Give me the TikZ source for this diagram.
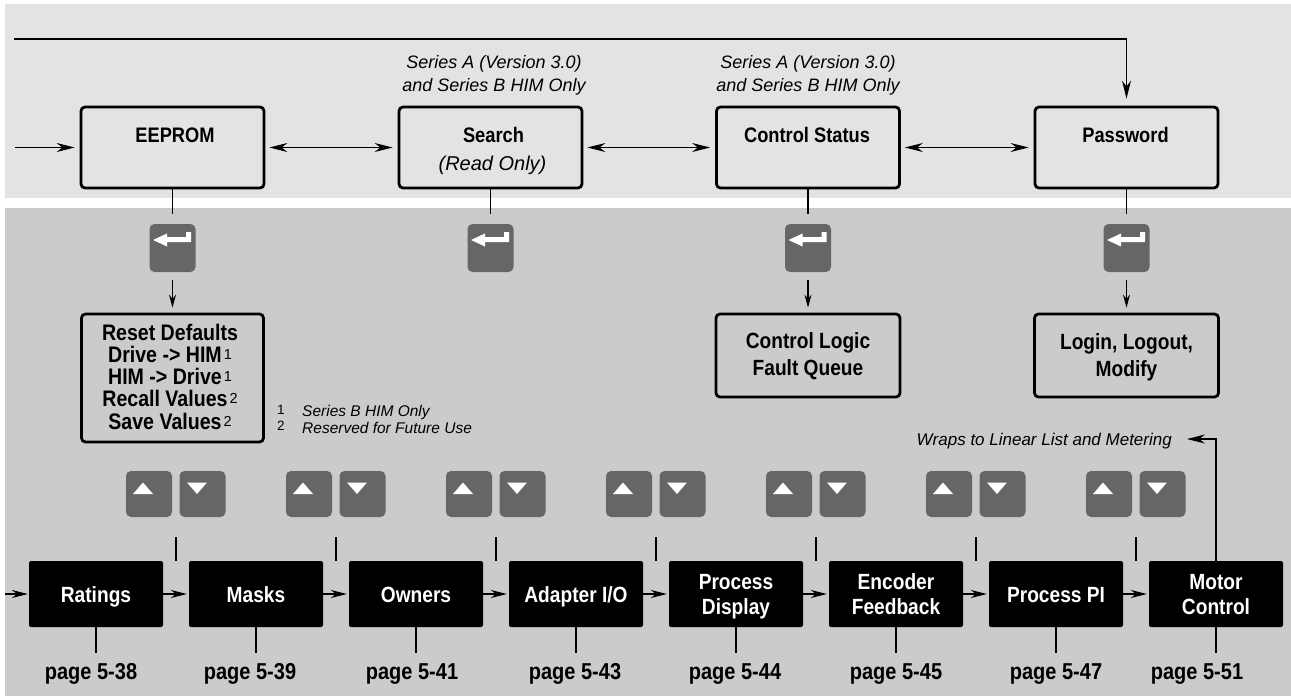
\documentclass[tikz,border=0pt]{standalone}
\usepackage{fontspec}
\setmainfont{Liberation Sans}[FakeStretch=0.87]
\newfontfamily\plainf{Liberation Sans}
\usetikzlibrary{arrows.meta,calc}
\definecolor{bandA}{RGB}{227,227,227}
\definecolor{bandB}{RGB}{203,203,203}
\definecolor{keyg}{RGB}{102,102,102}
\newcommand\lns[2]{\vtop{\baselineskip=#1\lineskiplimit=-1000pt\lineskip=0pt\halign{\hfil##\hfil\cr#2\crcr}}}
\newcommand\sups[1]{\kern2pt\raisebox{3pt}{\plainf\mdseries\fontsize{14.5}{14.5}\selectfont #1}}
\tikzset{
 tbox/.style={draw, line width=2.8pt, rounded corners=4pt, minimum width=183pt, minimum height=81pt, inner sep=0pt},
 bbox/.style={fill=black, rounded corners=2pt, minimum width=134pt, minimum height=66pt, inner sep=0pt},
 keybox/.style={fill=keyg, rounded corners=5pt, minimum width=46pt, minimum height=46pt, inner sep=0pt},
 ttl/.style={anchor=base, inner sep=0pt, font=\bfseries\fontsize{21}{25}\selectfont},
 note/.style={anchor=base, inner sep=0pt, font=\plainf\itshape\fontsize{18}{23}\selectfont},
 wtxt/.style={anchor=base, inner sep=0pt, text=white, font=\bfseries\fontsize{22}{25}\selectfont},
 btxt/.style={anchor=base, inner sep=0pt, font=\bfseries\fontsize{22}{25}\selectfont},
 pg/.style={anchor=base, inner sep=0pt, font=\bfseries\fontsize{23}{25}\selectfont},
 conn/.style={line width=1.2pt},
 tick/.style={line width=1.5pt},
 arr/.style={conn, -{Stealth[length=18pt,width=9pt]}},
 darr/.style={conn, {Stealth[length=18pt,width=9pt]}-{Stealth[length=18pt,width=9pt]}},
 sarr/.style={conn, -{Stealth[length=13pt,width=7pt]}},
 barr/.style={conn, -{Stealth[length=16pt,width=8pt]}},
}
\begin{document}
\begin{tikzpicture}[x=1pt,y=-1pt]
\useasboundingbox (0,0) rectangle (1291,696);
\fill[white] (0,0) rectangle (1291,696);
\fill[bandA] (5,4) rectangle (1291,198);
\fill[bandB] (5,208) rectangle (1291,696);

% ---------- top row ----------
\node[tbox] (ee) at (172.5,147.5) {};
\node[tbox] (se) at (490.5,147.5) {};
\node[tbox] (cs) at (808,147.5) {};
\node[tbox] (pw) at (1126.5,147.5) {};
\node[ttl] (eet) at (175,142.5) {EEPROM};
\node[ttl] (set) at (493.5,142.5) {Search};
\node[anchor=base, inner sep=0pt, font=\plainf\itshape\fontsize{20}{24}\selectfont] (ser) at (492.5,170) {(Read Only)};
\node[ttl] (cst) at (807,142.5) {Control Status};
\node[ttl] (pwt) at (1125.5,142.5) {Password};

\node[note] (n1) at (494,68.5) {\lns{22.5pt}{Series A (Version 3.0)\cr and Series B HIM Only}};
\node[note] (n2) at (808,68.5) {\lns{22.5pt}{Series A (Version 3.0)\cr and Series B HIM Only}};

\coordinate (tl) at (14,39);
\draw[arr, shorten >=7pt] (tl) -| (pw.north);
\coordinate (li) at (15,147.5);
\draw[arr, shorten >=5pt] (li) -- (ee.west);
\draw[darr, shorten <=4pt, shorten >=5pt] (ee.east) -- (se.west);
\draw[darr, shorten <=4pt, shorten >=5pt] (se.east) -- (cs.west);
\draw[darr, shorten <=4pt, shorten >=5pt] (cs.east) -- (pw.west);

% ---------- enter keys ----------
\node[keybox, minimum height=48pt] (k1) at (172.5,248) {};
\node[keybox, minimum height=48pt] (k2) at (490.5,248) {};
\node[keybox, minimum height=48pt] (k3) at (808,248) {};
\node[keybox, minimum height=48pt] (k4) at (1126.5,248) {};
\foreach \k in {k1,k2,k3,k4}{
  \begin{scope}[shift={(\k.center)}]
    \fill[white] (-19.5,-8) -- (-5.5,-14.5) -- (-5.5,-11) -- (13.5,-11) -- (13.5,-16)
      -- (18.5,-16) -- (18.5,-6) -- (-5.5,-6) -- (-5.5,-1.5) -- cycle;
  \end{scope}
}
\draw[conn] (ee.south) -- ++(0,25);
\draw[conn] (se.south) -- ++(0,25);
\draw[conn] (cs.south) -- ++(0,25);
\draw[conn] (pw.south) -- ++(0,25);

% ---------- sub boxes ----------
\node[tbox, minimum width=182pt, minimum height=128pt] (rs) at (172.5,378) {};
\node[btxt, font=\bfseries\fontsize{22.5}{22.3}\selectfont] (rst) at (170,340)
  {\lns{22.3pt}{Reset Defaults\cr Drive -> HIM\sups{1}\cr HIM -> Drive\sups{1}\cr Recall Values\sups{2}\cr Save Values\sups{2}}};
\node[tbox, minimum width=184pt, minimum height=83pt] (cl) at (808,355.5) {};
\node[btxt] (clt) at (808,348) {\lns{27.7pt}{Control Logic\cr Fault Queue}};
\node[tbox, minimum width=184pt, minimum height=83pt] (lg) at (1126.5,355.5) {};
\node[btxt] (lgt) at (1126.5,349) {\lns{27.7pt}{Login, Logout,\cr Modify}};

\draw[sarr, shorten <=8pt, shorten >=5pt] (k1.south) -- (rs.north);
\draw[sarr, shorten <=8pt, shorten >=5pt] (k3.south) -- (cl.north);
\draw[sarr, shorten <=8pt, shorten >=5pt] (k4.south) -- (lg.north);

% footnotes
\node[anchor=base west, inner sep=0pt, font=\plainf\fontsize{13.5}{13.5}\selectfont] (f1n) at (277,414) {1};
\node[anchor=base west, inner sep=0pt, font=\plainf\itshape\fontsize{15.5}{17}\selectfont] (f1t) at (302,416.7) {Series B HIM Only};
\node[anchor=base west, inner sep=0pt, font=\plainf\fontsize{13.5}{13.5}\selectfont] (f2n) at (277,430.5) {2};
\node[anchor=base west, inner sep=0pt, font=\plainf\itshape\fontsize{15.5}{17}\selectfont] (f2t) at (302,433) {Reserved for Future Use};

% ---------- up/down keys ----------
\foreach \i in {0,...,6}{
  \node[keybox] (u\i) at (149+160*\i,494) {};
  \node[keybox] (d\i) at (202.5+160*\i,494) {};
  \begin{scope}[shift={(u\i.center)}]
    \fill[white] (-16,0) -- (4,0) -- (-6,-11.5) -- cycle;
  \end{scope}
  \begin{scope}[shift={(d\i.center)}]
    \fill[white] (-15.5,-11.5) -- (4.5,-11.5) -- (-5.5,0) -- cycle;
  \end{scope}
  \coordinate (ta\i) at (176+160*\i,537);
  \coordinate (tb\i) at (176+160*\i,561);
  \draw[tick] (ta\i) -- (tb\i);
}

% ---------- bottom row ----------
\foreach \i in {1,...,8}{
  \node[bbox] (r\i) at (96+160*\i-160,594) {};
  \draw[tick] (r\i.south) -- ++(0,26);
}
\node[wtxt] (t1) at (r1 |- 0,602.7) {Ratings};
\node[wtxt] (t2) at (r2 |- 0,602.7) {Masks};
\node[wtxt] (t3) at (r3 |- 0,602.7) {Owners};
\node[wtxt] (t4) at (r4 |- 0,602.7) {Adapter I/O};
\node[wtxt] (t5) at (r5 |- 0,589.3) {\lns{25pt}{Process\cr Display}};
\node[wtxt] (t6) at (r6 |- 0,589.3) {\lns{25pt}{Encoder\cr Feedback}};
\node[wtxt] (t7) at (r7 |- 0,602.7) {Process PI};
\node[wtxt] (t8) at (r8 |- 0,589.3) {\lns{25pt}{Motor\cr Control}};

\node[pg] (p1) at (91,679) {page 5-38};
\node[pg] (p2) at (250,679) {page 5-39};
\node[pg] (p3) at (412,679) {page 5-41};
\node[pg] (p4) at (575,679) {page 5-43};
\node[pg] (p5) at (735,679) {page 5-44};
\node[pg] (p6) at (896,679) {page 5-45};
\node[pg] (p7) at (1056,679) {page 5-47};
\node[pg] (p8) at (1197,679) {page 5-51};

\coordinate (lb) at (5,594);
\draw[barr, shorten >=1pt] (lb) -- (r1.west);
\foreach \i/\j in {1/2,2/3,3/4,4/5,5/6,6/7,7/8}{
  \draw[barr, shorten >=2pt] (r\i.east) -- (r\j.west);
}

\coordinate (we) at (1187,439);
\draw[arr] (r8.north) |- (we);
\node[anchor=base east, inner sep=0pt, font=\plainf\itshape\fontsize{17}{20}\selectfont] (wt) at (1172,445) {Wraps to Linear List and Metering};
\end{tikzpicture}
\end{document}
